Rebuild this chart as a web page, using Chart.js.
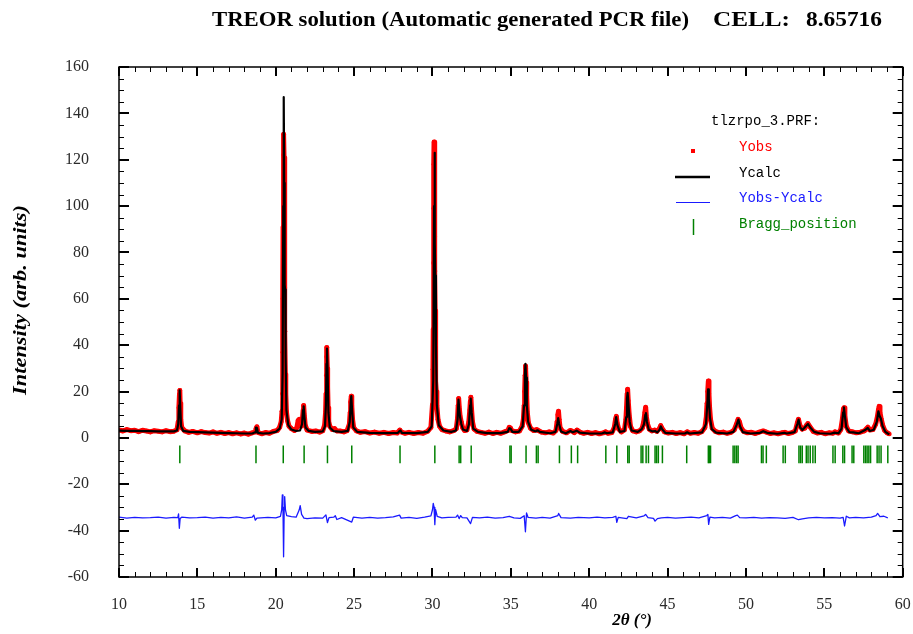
<!DOCTYPE html>
<html>
<head>
<meta charset="utf-8">
<title>TREOR solution</title>
<script src="https://cdn.jsdelivr.net/npm/chart.js@4.4.1/dist/chart.umd.min.js"></script>
<style>
  html, body { margin: 0; padding: 0; background: #fff; }
  #plot { display: block; }
</style>
</head>
<body>
<canvas id="plot" width="913" height="634"></canvas>
<script>
// Rietveld-style pattern (2theta, intensity)

// Yobs: observed points
const yObs = [
  [10.0,3.4],[10.25,3.0],[10.5,3.6],[10.75,3.1],[11.0,3.3],[11.25,2.7],[11.5,3.3],[11.75,3.0],[12.0,2.6],[12.25,3.1],
  [12.5,2.9],[12.75,2.6],[13.0,3.1],[13.25,2.7],[13.5,2.9],[13.7,3.5],[13.78,7],[13.82,13],[13.86,19],[13.88,20.5],
  [13.9,15],[13.94,8],[14.0,4.5],[14.2,3.0],[14.45,2.4],[14.7,2.8],[15.0,2.2],[15.25,2.7],[15.5,2.3],[15.75,2.1],
  [16.0,2.6],[16.25,2.0],[16.5,2.4],[16.75,1.9],[17.0,2.3],[17.25,1.8],[17.5,2.2],[17.75,1.7],[18.0,2.1],[18.25,1.6],
  [18.5,2.2],[18.7,2.6],[18.75,4.2],[18.8,4.8],[18.86,2.4],[19.1,1.8],[19.35,2.3],[19.6,2.0],[19.85,2.8],[20.1,3.2],
  [20.25,4.6],[20.35,7],[20.4,11.5],[20.43,19],[20.45,37],[20.46,60],[20.47,91],[20.49,122],[20.51,131],[20.53,121],
  [20.55,95],[20.57,65],[20.59,46],[20.61,27.5],[20.64,19],[20.68,11.5],[20.75,7.5],[20.85,5],[21.0,4.0],[21.2,3.2],
  [21.35,4.5],[21.43,7.5],[21.5,8],[21.56,7],[21.62,5],[21.7,8],[21.75,12],[21.78,14],[21.82,10],[21.88,5.5],
  [22.0,3.4],[22.3,2.8],[22.55,3.0],[22.8,2.5],[23.0,3.1],[23.12,5.5],[23.18,11],[23.21,19],[23.23,27],[23.25,35],
  [23.27,39],[23.29,30],[23.31,22],[23.34,13],[23.38,7],[23.45,5.0],[23.6,3.6],[23.75,4],[23.9,3.0],[24.1,3.0],
  [24.35,2.6],[24.55,3.1],[24.7,6],[24.75,11],[24.78,15.5],[24.82,18],[24.85,14],[24.9,8],[24.97,4.5],[25.15,3.0],
  [25.4,2.4],[25.7,2.7],[26.0,2.1],[26.3,2.5],[26.6,2.0],[26.9,2.4],[27.2,1.9],[27.5,2.3],[27.75,2.1],[27.92,3.4],
  [28.0,2.6],[28.25,2.0],[28.5,2.4],[28.8,1.9],[29.1,2.3],[29.4,2.0],[29.7,2.9],[29.9,4.5],[30.0,14.5],[30.03,29.6],
  [30.05,47],[30.07,75.5],[30.08,99],[30.09,118],[30.1,127.6],[30.12,107.6],[30.14,87],[30.16,72],[30.17,55],[30.19,35],
  [30.21,24.5],[30.24,20],[30.28,14],[30.35,8],[30.45,5],[30.6,3.6],[30.85,3.0],[31.1,2.6],[31.35,3.1],[31.52,4],
  [31.6,8.5],[31.64,14],[31.67,17],[31.71,13],[31.76,9.5],[31.83,7],[31.92,4.5],[32.05,3.2],[32.2,3.4],[32.32,7],
  [32.38,12],[32.42,16],[32.45,17.5],[32.49,12.5],[32.55,7],[32.65,3.8],[32.85,2.8],[33.1,2.4],[33.35,2.0],[33.6,2.5],
  [33.85,1.9],[34.1,2.4],[34.35,2.0],[34.6,2.6],[34.82,3.2],[34.9,4.6],[34.97,4.3],[35.05,3.2],[35.3,2.6],[35.55,3.0],
  [35.72,5],[35.8,8],[35.85,14],[35.88,20],[35.91,27],[35.93,31],[35.95,30],[35.98,24],[36.01,18],[36.05,11],
  [36.12,6.5],[36.25,4.2],[36.45,3.2],[36.65,3.6],[36.75,3.2],[36.95,2.5],[37.2,2.2],[37.45,2.6],[37.7,2.1],[37.88,3.2],
  [37.95,7],[38.0,10],[38.04,11.5],[38.08,8],[38.14,4.5],[38.3,2.8],[38.55,2.2],[38.78,3.2],[38.88,3.0],[39.05,2.3],
  [39.22,3.4],[39.4,2.5],[39.65,2.0],[39.9,2.4],[40.15,1.9],[40.4,2.3],[40.65,1.8],[40.9,2.2],[41.05,2.6],[41.2,2.0],
  [41.45,2.3],[41.6,4.5],[41.68,8],[41.73,9.3],[41.78,6.5],[41.88,3.8],[42.05,2.6],[42.25,3.5],[42.34,8],[42.38,13],
  [42.42,19],[42.45,21],[42.49,16],[42.55,10],[42.63,5],[42.78,3.0],[43.0,2.6],[43.2,3.0],[43.38,4.2],[43.48,7],
  [43.55,11],[43.6,13.2],[43.65,9],[43.72,6],[43.83,3.8],[44.0,3.0],[44.18,3.4],[44.32,2.8],[44.48,4],[44.56,5.3],
  [44.64,4.2],[44.8,2.6],[45.05,2.1],[45.3,2.4],[45.55,1.9],[45.8,2.3],[46.05,1.8],[46.25,2.6],[46.45,2.0],[46.7,2.3],
  [46.95,2.0],[47.2,2.8],[47.38,4.5],[47.47,9],[47.52,15],[47.56,20],[47.6,24.5],[47.64,19],[47.68,13],[47.74,8],
  [47.85,4.2],[48.05,2.8],[48.3,2.2],[48.55,2.5],[48.8,2.0],[49.05,2.4],[49.25,3.4],[49.4,6],[49.5,8],[49.58,7],
  [49.68,4.5],[49.85,2.8],[50.1,2.2],[50.35,2.4],[50.6,1.9],[50.85,2.5],[51.1,3.0],[51.3,2.5],[51.55,1.9],[51.8,2.2],
  [52.05,1.8],[52.3,2.2],[52.48,2.4],[52.7,1.9],[52.95,2.3],[53.15,3.0],[53.28,6.5],[53.35,8],[53.44,5.5],[53.58,3.8],
  [53.75,4.2],[53.87,5.5],[53.95,6.2],[54.08,4.8],[54.3,2.8],[54.55,2.1],[54.8,2.4],[55.05,1.8],[55.3,2.2],[55.55,2.0],
  [55.68,2.6],[55.9,2.1],[56.05,3.6],[56.15,8],[56.22,12.5],[56.26,13],[56.31,9.5],[56.4,5],[56.55,3.0],[56.8,2.6],
  [57.05,2.2],[57.3,2.5],[57.55,3.0],[57.7,4.0],[57.78,4.6],[57.9,3.4],[58.1,3.6],[58.28,6],[58.38,9],[58.45,12],
  [58.5,13.6],[58.55,11],[58.62,8.5],[58.72,5.5],[58.85,3.2],[59.0,2.2],[59.15,1.7]
];

// Ycalc: calculated profile
const yCalc = [
  [10.0,3.1],[10.5,3.0],[11.0,3.0],[11.5,2.9],[12.0,2.9],[12.5,2.8],[13.0,2.8],[13.5,2.8],[13.7,3.2],[13.78,6],
  [13.83,14],[13.87,20.5],[13.91,13],[13.96,5],[14.1,3.0],[14.5,2.6],[15.0,2.5],[15.5,2.4],[16.0,2.3],[16.5,2.2],
  [17.0,2.1],[17.5,2.0],[18.0,1.9],[18.5,1.9],[18.68,2.4],[18.74,4.5],[18.8,4.3],[18.86,2.2],[19.2,1.9],[19.6,2.1],
  [20.0,2.6],[20.25,4.0],[20.38,8],[20.44,28],[20.48,100],[20.51,147],[20.54,110],[20.57,66],[20.6,64],[20.63,35],
  [20.68,12],[20.8,5.5],[21.0,3.6],[21.3,3.0],[21.55,3.2],[21.68,6],[21.74,12],[21.78,13.6],[21.83,9],[21.9,4.5],
  [22.1,3.0],[22.5,2.6],[23.0,2.8],[23.14,5],[23.2,14],[23.24,32],[23.27,38.5],[23.31,28],[23.36,11],[23.45,4.5],
  [23.7,2.9],[24.2,2.6],[24.6,3.0],[24.72,7],[24.78,15],[24.82,18],[24.87,12],[24.95,4.5],[25.2,2.6],[26.0,2.2],
  [27.0,2.1],[27.8,2.2],[27.9,3.0],[27.96,3.2],[28.05,2.2],[29.0,2.1],[29.7,2.6],[29.95,5],[30.05,25],[30.1,100],
  [30.13,123],[30.16,84],[30.18,70],[30.22,40],[30.28,14],[30.4,5.5],[30.7,3.2],[31.2,2.6],[31.5,3.2],[31.6,8],
  [31.66,16.5],[31.71,12],[31.76,9],[31.84,6],[31.95,3.6],[32.2,3.0],[32.33,6],[32.4,14],[32.44,17],[32.5,11],
  [32.6,4],[32.9,2.6],[33.5,2.1],[34.3,2.1],[34.8,2.6],[34.9,4.2],[34.98,4.0],[35.1,2.6],[35.5,2.6],[35.75,5],
  [35.84,14],[35.9,28],[35.93,32],[35.97,26],[36.02,14],[36.1,7],[36.3,3.5],[36.6,2.8],[36.7,3.3],[36.85,2.6],
  [37.5,2.0],[37.85,2.6],[37.96,6],[38.02,8.5],[38.08,6],[38.2,2.8],[38.5,2.0],[38.8,3.0],[38.95,2.4],[39.2,3.1],
  [39.4,2.3],[40.0,1.9],[40.8,1.9],[41.0,2.4],[41.1,2.0],[41.5,2.4],[41.66,6],[41.72,9],[41.8,5.5],[41.95,2.6],
  [42.25,3.0],[42.36,9],[42.41,17],[42.45,19.4],[42.5,15],[42.58,7],[42.7,3.2],[43.1,2.6],[43.35,3.8],[43.5,6],
  [43.58,10],[43.62,10.7],[43.68,7],[43.8,3.5],[44.05,2.8],[44.2,3.0],[44.35,2.4],[44.5,3.6],[44.56,5],[44.65,3.8],
  [44.85,2.2],[45.5,1.9],[46.1,1.9],[46.25,2.4],[46.4,1.9],[47.2,2.4],[47.45,6],[47.54,15],[47.58,21],[47.63,17],
  [47.7,9],[47.82,3.8],[48.1,2.3],[48.8,1.9],[49.2,2.6],[49.4,5.5],[49.52,7.9],[49.62,5],[49.8,2.5],[50.3,1.9],
  [50.9,2.2],[51.1,2.9],[51.35,2.2],[52.0,1.8],[52.45,2.2],[52.6,1.9],[53.1,2.5],[53.28,6],[53.36,7.9],[53.46,4.5],
  [53.6,3.4],[53.85,5.2],[53.96,6],[54.1,4.5],[54.35,2.6],[54.7,2.0],[55.4,1.8],[55.65,2.3],[55.9,2.0],[56.1,4],
  [56.2,11],[56.25,13.2],[56.3,10],[56.4,4.5],[56.6,2.5],[56.85,2.4],[57.2,2.0],[57.6,3.4],[57.77,4.3],[57.9,3.0],
  [58.15,3.5],[58.35,7],[58.45,11.5],[58.52,9.5],[58.6,8.5],[58.72,5],[58.9,2.6],[59.05,1.9],[59.15,1.6]
];

// Yobs-Ycalc, plotted with its offset
const yDiff = [
  [10.0,-34.2],[10.5,-34.6],[11.0,-34.3],[11.5,-34.5],[12.0,-34.4],[12.5,-34.2],[13.0,-34.6],[13.5,-34.3],[13.75,-34.4],[13.8,-32.8],
  [13.85,-39],[13.9,-34.8],[14.0,-34.2],[14.5,-34.5],[15.0,-34.4],[15.5,-34.2],[16.0,-34.6],[16.5,-34.3],[17.0,-34.5],[17.5,-34.1],
  [18.0,-34.6],[18.5,-34.2],[18.6,-33.3],[18.7,-35.5],[18.8,-34.6],[19.5,-34.3],[20.0,-34.5],[20.3,-33.8],[20.38,-31],[20.42,-24.6],
  [20.46,-29],[20.5,-51.3],[20.54,-30],[20.57,-25.3],[20.62,-31],[20.7,-33.5],[21.0,-34.0],[21.3,-34.2],[21.5,-31],[21.56,-29.2],
  [21.65,-33],[21.8,-34.6],[22.0,-34.8],[22.5,-34.5],[23.0,-34.6],[23.2,-33.2],[23.3,-36.5],[23.4,-34.4],[23.7,-34.2],[23.8,-33.6],
  [23.9,-35.2],[24.2,-34.4],[24.85,-36.3],[24.95,-34.2],[25.5,-34.6],[26.0,-34.3],[26.5,-34.6],[27.0,-34.4],[27.5,-34.1],[27.9,-33.3],
  [28.0,-34.6],[28.5,-34.3],[29.0,-34.7],[29.5,-34.2],[29.9,-33.6],[30.0,-31],[30.05,-28.2],[30.1,-30],[30.15,-37.4],[30.2,-31],
  [30.3,-33.8],[30.6,-34.5],[31.0,-34.3],[31.5,-34.2],[31.6,-33.3],[31.7,-34.8],[31.8,-33.5],[31.9,-34.4],[32.2,-34.5],[32.43,-37],
  [32.55,-34.3],[33.0,-34.5],[33.5,-34.2],[34.0,-34.6],[34.5,-34.4],[34.9,-33.8],[35.2,-34.5],[35.6,-34.7],[35.85,-33.6],[35.93,-40.5],
  [36.0,-32.4],[36.1,-34.3],[36.6,-34.6],[37.0,-34.3],[37.5,-34.6],[38.0,-33.5],[38.05,-32.6],[38.2,-34.4],[38.8,-34.6],[39.3,-34.3],
  [40.0,-34.5],[40.5,-34.2],[41.0,-34.5],[41.5,-34.3],[41.7,-33.8],[41.76,-36.4],[41.85,-34.3],[42.4,-34.8],[42.5,-33.8],[43.0,-34.5],
  [43.5,-33.6],[43.6,-33.0],[43.75,-34.4],[44.1,-34.7],[44.2,-35.9],[44.35,-34.8],[44.6,-34.5],[45.0,-34.3],[45.5,-34.6],[46.0,-34.4],
  [46.5,-34.2],[47.0,-34.5],[47.5,-33.5],[47.57,-33.0],[47.62,-37.3],[47.7,-34.2],[48.0,-34.5],[48.5,-34.3],[49.0,-34.6],[49.35,-33.5],
  [49.45,-33.3],[49.6,-34.4],[50.0,-34.5],[50.5,-34.3],[51.0,-34.6],[51.5,-34.4],[52.0,-34.5],[52.5,-34.7],[53.0,-34.3],[53.35,-35.3],
  [53.6,-34.9],[54.0,-34.5],[54.5,-34.3],[55.0,-34.5],[55.5,-34.4],[56.0,-34.6],[56.2,-34.3],[56.29,-38],[56.4,-33.8],[56.6,-34.5],
  [57.0,-34.3],[57.5,-34.5],[58.0,-34.2],[58.3,-33.5],[58.4,-32.6],[58.55,-34.0],[58.8,-33.8],[59.05,-34.5]
];

// Bragg reflection positions (2theta)
const braggPos = [
  13.88, 18.74, 20.48, 21.81, 23.3, 24.85, 27.93, 30.15, 31.7, 31.8, 32.47, 34.94, 35.02, 35.97, 36.63, 36.74,
  38.1, 38.86, 39.26, 41.06, 41.76, 42.46, 42.55, 43.31, 43.42, 43.63, 43.78, 44.2, 44.3, 44.41, 44.67, 46.22,
  47.6, 47.66, 47.74, 49.18, 49.29, 49.4, 49.5, 50.99, 51.09, 51.3, 52.37, 52.51, 53.38, 53.48, 53.59, 53.85,
  53.96, 54.1, 54.27, 54.42, 55.55, 55.69, 56.18, 56.29, 56.77, 56.88, 57.52, 57.63, 57.73, 57.84, 57.95, 58.37,
  58.49, 58.62, 59.05
];
const braggLevel = -7.1;

const legendLabels = ['Yobs', 'Ycalc', 'Yobs-Ycalc', 'Bragg_position'];
const fileLabel = 'tlzrpo_3.PRF:';
const titleText = ['TREOR solution (Automatic generated PCR file)', 'CELL:', '8.65716'];

const serif = '"Liberation Serif", "Times New Roman", serif';
const mono = '"Liberation Mono", "Courier New", monospace';
const colors = { obs: '#ff0000', calc: '#000000', diff: '#1a1aff', bragg: '#008000' };

const toPts = arr => arr.map(p => ({ x: p[0], y: p[1] }));

// draw text squeezed/stretched horizontally to a given width
function fitText(ctx, text, x, y, width) {
  const w = ctx.measureText(text).width;
  ctx.save();
  ctx.translate(x, y);
  ctx.scale(width / w, 1);
  ctx.fillText(text, 0, 0);
  ctx.restore();
}

// Frame with inward ticks, title, axis titles and legend
const framePlugin = {
  id: 'frame',
  afterDraw(chart) {
    const { ctx, chartArea: a, scales: { x, y } } = chart;
    ctx.save();

    // minor + major ticks
    const tick = (lw, fn) => { ctx.lineWidth = lw; ctx.beginPath(); fn(); ctx.stroke(); };
    ctx.strokeStyle = '#000';
    tick(1, () => {
      for (let v = -60; v <= 160; v += 5) {
        if (v % 20 === 0) continue;
        const py = Math.round(y.getPixelForValue(v)) + 0.5;
        ctx.moveTo(a.left, py); ctx.lineTo(a.left + 5, py);
        ctx.moveTo(a.right, py); ctx.lineTo(a.right - 5, py);
      }
      for (let v = 10; v <= 60; v += 1) {
        if (v % 5 === 0) continue;
        const px = Math.round(x.getPixelForValue(v)) + 0.5;
        ctx.moveTo(px, a.bottom); ctx.lineTo(px, a.bottom - 5);
        ctx.moveTo(px, a.top); ctx.lineTo(px, a.top + 5);
      }
    });
    tick(2, () => {
      for (let v = -60; v <= 160; v += 20) {
        const py = Math.round(y.getPixelForValue(v));
        ctx.moveTo(a.left, py); ctx.lineTo(a.left + 10, py);
        ctx.moveTo(a.right, py); ctx.lineTo(a.right - 10, py);
      }
      for (let v = 10; v <= 60; v += 5) {
        const px = Math.round(x.getPixelForValue(v));
        ctx.moveTo(px, a.bottom); ctx.lineTo(px, a.bottom - 9);
        ctx.moveTo(px, a.top); ctx.lineTo(px, a.top + 9);
      }
    });
    ctx.lineWidth = 1.5;
    ctx.strokeRect(a.left, a.top, a.right - a.left, a.bottom - a.top);

    // title
    ctx.fillStyle = '#000';
    ctx.font = 'bold 21px ' + serif;
    ctx.textBaseline = 'alphabetic';
    ctx.textAlign = 'left';
    fitText(ctx, titleText[0], 212, 26, 477);
    fitText(ctx, titleText[1], 713, 26, 77);
    fitText(ctx, titleText[2], 806, 26, 76);

    // axis titles
    ctx.font = 'bold italic 17px ' + serif;
    ctx.textAlign = 'center';
    ctx.textBaseline = 'middle';
    ctx.fillText('2\u03B8 (\u00B0)', 632, 621);
    ctx.save();
    ctx.translate(21, 300);
    ctx.rotate(-Math.PI / 2);
    ctx.font = 'bold italic 19px ' + serif;
    ctx.textAlign = 'left';
    fitText(ctx, 'Intensity (arb. units)', -95, 0, 190);
    ctx.restore();

    // legend
    ctx.font = '14px ' + mono;
    ctx.textAlign = 'left';
    ctx.textBaseline = 'alphabetic';
    ctx.fillStyle = '#000';
    ctx.fillText(fileLabel, 711, 125);
    const rows = [151, 177, 202, 228];
    const rowColors = [colors.obs, colors.calc, colors.diff, colors.bragg];
    legendLabels.forEach((t, i) => {
      ctx.fillStyle = rowColors[i];
      ctx.fillText(t, 739, rows[i]);
    });
    ctx.fillStyle = colors.obs;
    ctx.fillRect(691, 149, 4, 4);
    ctx.strokeStyle = colors.calc;
    ctx.lineWidth = 2.5;
    ctx.beginPath(); ctx.moveTo(675, 177); ctx.lineTo(710, 177); ctx.stroke();
    ctx.strokeStyle = colors.diff;
    ctx.lineWidth = 1;
    ctx.beginPath(); ctx.moveTo(676, 202.5); ctx.lineTo(710, 202.5); ctx.stroke();
    ctx.strokeStyle = colors.bragg;
    ctx.lineWidth = 1.5;
    ctx.beginPath(); ctx.moveTo(693.5, 219); ctx.lineTo(693.5, 235); ctx.stroke();

    ctx.restore();
  }
};

const ctx = document.getElementById('plot').getContext('2d');
const chart = new Chart(ctx, {
  type: 'scatter',
  data: {
    datasets: [
      {
        label: 'Bragg_position',
        data: braggPos.map(p => ({ x: p, y: braggLevel })),
        pointStyle: 'line',
        rotation: 90,
        pointRadius: 8.8,
        borderColor: colors.bragg,
        borderWidth: 1.5,
        order: 4
      },
      {
        label: 'Yobs',
        data: toPts(yObs),
        showLine: true,
        borderColor: colors.obs,
        borderWidth: 5,
        borderJoinStyle: 'round',
        pointRadius: 2.3,
        pointBorderWidth: 0,
        pointBackgroundColor: colors.obs,
        order: 3
      },
      {
        label: 'Ycalc',
        data: toPts(yCalc),
        showLine: true,
        borderColor: colors.calc,
        borderWidth: 2.2,
        borderJoinStyle: 'round',
        pointRadius: 0,
        order: 2
      },
      {
        label: 'Yobs-Ycalc',
        data: toPts(yDiff),
        showLine: true,
        borderColor: colors.diff,
        borderWidth: 1.3,
        borderJoinStyle: 'round',
        pointRadius: 0,
        order: 1
      }
    ]
  },
  options: {
    responsive: false,
    animation: false,
    layout: { padding: { top: 67, right: 8, left: 0, bottom: 0 } },
    plugins: {
      legend: { display: false },
      tooltip: { enabled: false },
      title: { display: false }
    },
    scales: {
      x: {
        type: 'linear',
        min: 10,
        max: 60,
        afterFit(scale) {
          scale.height = 57;
          scale.paddingLeft = 0;
          scale.paddingRight = 0;
        },
        grid: { display: false, drawTicks: false },
        border: { display: false },
        ticks: {
          stepSize: 5,
          padding: 18,
          color: '#2a2a2a',
          font: { family: serif, size: 16 }
        }
      },
      y: {
        min: -60,
        max: 160,
        afterFit(scale) {
          scale.width = 119;
          scale.paddingTop = 0;
          scale.paddingBottom = 0;
        },
        grid: { display: false, drawTicks: false },
        border: { display: false },
        ticks: {
          stepSize: 20,
          padding: 30,
          color: '#2a2a2a',
          font: { family: serif, size: 16 }
        }
      }
    }
  },
  plugins: [framePlugin]
});
</script>
</body>
</html>
